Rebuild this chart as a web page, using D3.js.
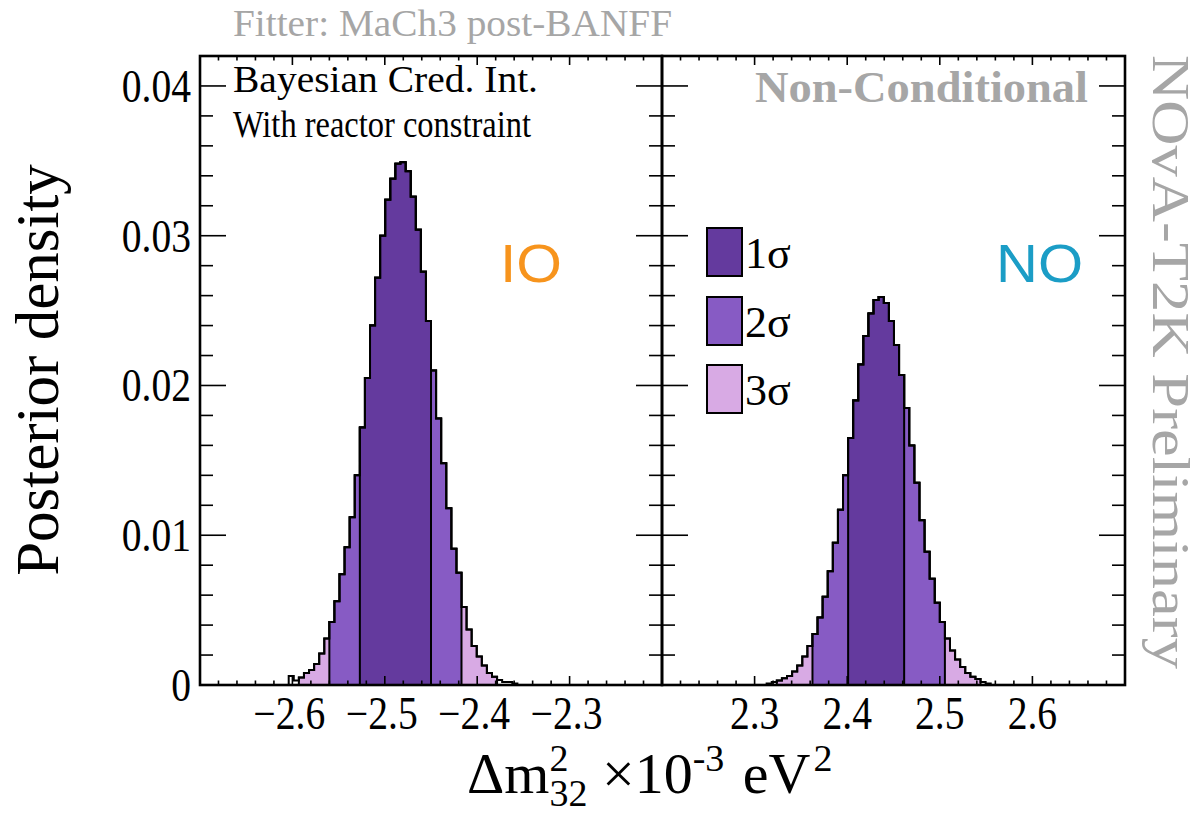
<!DOCTYPE html>
<html>
<head>
<meta charset="utf-8">
<script src="https://cdn.jsdelivr.net/npm/d3@7"></script>
<style>
  body { margin: 0; background: #fff; }
  svg { display: block; }
</style>
</head>
<body>
<svg id="chart" width="1198" height="817"></svg>
<script>
// Posterior of Δm²32 (×10⁻³ eV²) split into inverted (negative) and normal (positive) ordering.
const binWidth = 0.0055;

// Inverted ordering histogram
const ioStart = -2.604;
const ioDensity = [
  0.0006, 0.0003, 0.0005, 0.0008, 0.0010, 0.0014, 0.0021, 0.0031, 0.0042, 0.0056,
  0.0074, 0.0092, 0.0112, 0.0140, 0.0172, 0.0205, 0.0240, 0.0272, 0.0300, 0.0324,
  0.0338, 0.0348, 0.0349, 0.0343, 0.0326, 0.0304, 0.0276, 0.0243, 0.0210, 0.0178,
  0.0148, 0.0118, 0.0091, 0.0075, 0.0052, 0.0037, 0.0026, 0.0019, 0.0013, 0.0008,
  0.00055, 0.00033, 0.0002, 0.0002, 0.0001
];

// Normal ordering histogram
const noStart = 2.313;
const noDensity = [
  0.0001, 0.0002, 0.0003, 0.00045, 0.0006, 0.0009, 0.0013, 0.0019, 0.0026, 0.0034,
  0.0045, 0.0059, 0.0076, 0.0095, 0.0117, 0.0140, 0.0165, 0.0190, 0.0214, 0.0233,
  0.0248, 0.0257, 0.0259, 0.0255, 0.0243, 0.0227, 0.0207, 0.0185, 0.0160, 0.0135,
  0.0110, 0.0089, 0.0071, 0.0055, 0.0042, 0.0031, 0.0023, 0.0017, 0.0012, 0.0008,
  0.00055, 0.0004, 0.0002, 0.0001
];

// Credible interval bounds, [low, high] for 1σ, 2σ, 3σ
const sigmaLabels = ["1σ", "2σ", "3σ"];
const ioBounds = [[-2.527, -2.4475], [-2.560, -2.417], [-2.593, -2.3785]];
const noBounds = [[2.401, 2.4615], [2.3625, 2.5055], [2.324, 2.544]];
const sigmaColors = ["#643a9e", "#875bc4", "#d8aae4"];

// Axes
const ioDomain = [-2.7, -2.2];
const noDomain = [2.2, 2.7];
const ioTicks = [-2.6, -2.5, -2.4, -2.3];
const noTicks = [2.3, 2.4, 2.5, 2.6];
const yTicks = [0, 0.01, 0.02, 0.03, 0.04];
const yTickLabels = ["0", "0.01", "0.02", "0.03", "0.04"];

const serif = "'Liberation Serif', 'Times New Roman', serif";
const sans = "'Liberation Sans', Arial, sans-serif";

const svg = d3.select("#chart");
const frameTop = 56, frameBottom = 685;
const y = d3.scaleLinear().domain([0, 0.042]).range([frameBottom, frameTop]);

const panels = [
  { x: d3.scaleLinear().domain(ioDomain).range([200, 662]), start: ioStart, vals: ioDensity, bounds: ioBounds, ticks: ioTicks },
  { x: d3.scaleLinear().domain(noDomain).range([662, 1125]), start: noStart, vals: noDensity, bounds: noBounds, ticks: noTicks }
];

const fmtTick = v => (v < 0 ? "\u2212" : "") + Math.abs(v).toFixed(1);

// Tall, slightly condensed serif used for the axis numbers
function tickText(parent, x, yy, str, anchor) {
  const t = parent.append("text")
    .attr("x", x).attr("y", yy)
    .attr("text-anchor", anchor)
    .attr("font-family", serif).attr("font-size", 46)
    .text(str);
  const w = t.node().getComputedTextLength();
  t.attr("textLength", w * 0.86).attr("lengthAdjust", "spacingAndGlyphs");
}

panels.forEach(p => {
  const g = svg.append("g");
  const [px0, px1] = p.x.range();

  // Step outline of bins whose centre lies in [lo, hi]
  const stepPath = (lo, hi, close) => {
    const pts = [];
    p.vals.forEach((v, k) => {
      const e0 = p.start + k * binWidth, e1 = e0 + binWidth, c = (e0 + e1) / 2;
      if (c < lo || c > hi) return;
      pts.push([p.x(e0), y(v)], [p.x(e1), y(v)]);
    });
    if (!pts.length) return "";
    const first = [pts[0][0], y(0)], last = [pts[pts.length - 1][0], y(0)];
    return d3.line()([first, ...pts, last]) + (close ? "Z" : "");
  };

  // Filled credible regions, widest first
  [2, 1, 0].forEach(i => {
    g.append("path")
      .attr("d", stepPath(p.bounds[i][0], p.bounds[i][1], true))
      .attr("fill", sigmaColors[i])
      .attr("stroke", "#000")
      .attr("stroke-width", 2);
  });
  // Whole posterior outline
  g.append("path")
    .attr("d", stepPath(-Infinity, Infinity, false))
    .attr("fill", "none")
    .attr("stroke", "#000")
    .attr("stroke-width", 2);

  // Ticks: x on bottom and top, y on both sides
  const tk = g.append("g").attr("stroke", "#000").attr("stroke-width", 1.6);
  const minorX = d3.range(Math.ceil(p.x.domain()[0] / 0.02 - 1e-9), Math.floor(p.x.domain()[1] / 0.02 + 1e-9) + 1)
    .map(i => i * 0.02);
  minorX.forEach(v => {
    const major = p.ticks.some(t => Math.abs(t - v) < 1e-6);
    const len = major ? 9 : 4.5;
    const xx = p.x(v);
    tk.append("line").attr("x1", xx).attr("x2", xx).attr("y1", frameBottom).attr("y2", frameBottom - len);
    tk.append("line").attr("x1", xx).attr("x2", xx).attr("y1", frameTop).attr("y2", frameTop + len);
  });
  d3.range(0, 0.0421, 0.002).forEach(v => {
    const major = yTicks.some(t => Math.abs(t - v) < 1e-9);
    const len = major ? 26 : 13;
    const yy = y(v);
    tk.append("line").attr("x1", px0).attr("x2", px0 + len).attr("y1", yy).attr("y2", yy);
    tk.append("line").attr("x1", px1).attr("x2", px1 - len).attr("y1", yy).attr("y2", yy);
  });

  // Frame
  g.append("rect")
    .attr("x", px0).attr("y", frameTop)
    .attr("width", px1 - px0).attr("height", frameBottom - frameTop)
    .attr("fill", "none").attr("stroke", "#000").attr("stroke-width", 2.6);

  // x tick labels
  p.ticks.forEach(t => tickText(g, p.x(t) - (t < 0 ? 3 : 0), 729, fmtTick(t), "middle"));
});

// y tick labels
yTicks.forEach((t, i) => tickText(svg, 191, y(t) + 16, yTickLabels[i], "end"));

// Axis titles
svg.append("text")
  .attr("transform", "translate(58,370) rotate(-90)")
  .attr("text-anchor", "middle")
  .attr("font-family", serif).attr("font-size", 61)
  .text("Posterior density");

const xt = svg.append("text")
  .attr("x", 467).attr("y", 793)
  .attr("font-family", serif).attr("font-size", 58);
xt.append("tspan").text("Δm");
xt.append("tspan").attr("font-size", 38).attr("dy", -22).text("2");
xt.append("tspan").attr("font-size", 38).attr("dx", -19).attr("dy", 35).text("32");
xt.append("tspan").attr("dy", -13).text(" ×10");
xt.append("tspan").attr("font-size", 38).attr("dy", -22).text("-3");
xt.append("tspan").attr("dx", 4).attr("dy", 22).text(" eV");
xt.append("tspan").attr("font-size", 38).attr("dx", 3).attr("dy", -22).text("2");

// Header and annotations
svg.append("text")
  .attr("x", 233).attr("y", 36)
  .attr("font-family", serif).attr("font-size", 38).attr("fill", "#a6a6a6")
  .attr("textLength", 439).attr("lengthAdjust", "spacingAndGlyphs")
  .text("Fitter: MaCh3 post-BANFF");
svg.append("text")
  .attr("x", 233).attr("y", 92)
  .attr("font-family", serif).attr("font-size", 37)
  .attr("textLength", 305).attr("lengthAdjust", "spacingAndGlyphs")
  .text("Bayesian Cred. Int.");
svg.append("text")
  .attr("x", 233).attr("y", 137)
  .attr("font-family", serif).attr("font-size", 37)
  .attr("textLength", 298).attr("lengthAdjust", "spacingAndGlyphs")
  .text("With reactor constraint");
svg.append("text")
  .attr("x", 755).attr("y", 102)
  .attr("font-family", serif).attr("font-size", 44).attr("font-weight", "bold").attr("fill", "#a6a6a6")
  .attr("textLength", 333).attr("lengthAdjust", "spacingAndGlyphs")
  .text("Non-Conditional");
svg.append("text")
  .attr("x", 500).attr("y", 282)
  .attr("font-family", sans).attr("font-size", 54).attr("fill", "#f7941d")
  .attr("textLength", 62).attr("lengthAdjust", "spacingAndGlyphs")
  .text("IO");
svg.append("text")
  .attr("x", 996).attr("y", 282)
  .attr("font-family", sans).attr("font-size", 54).attr("fill", "#1b9dc6")
  .attr("textLength", 87).attr("lengthAdjust", "spacingAndGlyphs")
  .text("NO");
svg.append("text")
  .attr("transform", "translate(1153,55) rotate(90)")
  .attr("font-family", serif).attr("font-size", 52).attr("fill", "#a6a6a6")
  .attr("textLength", 614).attr("lengthAdjust", "spacingAndGlyphs")
  .text("NOvA-T2K Preliminary");

// Legend
const legTops = [228, 297, 365];
const leg = svg.append("g");
sigmaLabels.forEach((lab, i) => {
  leg.append("rect")
    .attr("x", 707).attr("y", legTops[i]).attr("width", 35).attr("height", 48)
    .attr("fill", sigmaColors[i]).attr("stroke", "#000").attr("stroke-width", 2);
  leg.append("text")
    .attr("x", 745).attr("y", legTops[i] + 40)
    .attr("font-family", serif).attr("font-size", 44)
    .text(lab);
});
</script>
</body>
</html>
